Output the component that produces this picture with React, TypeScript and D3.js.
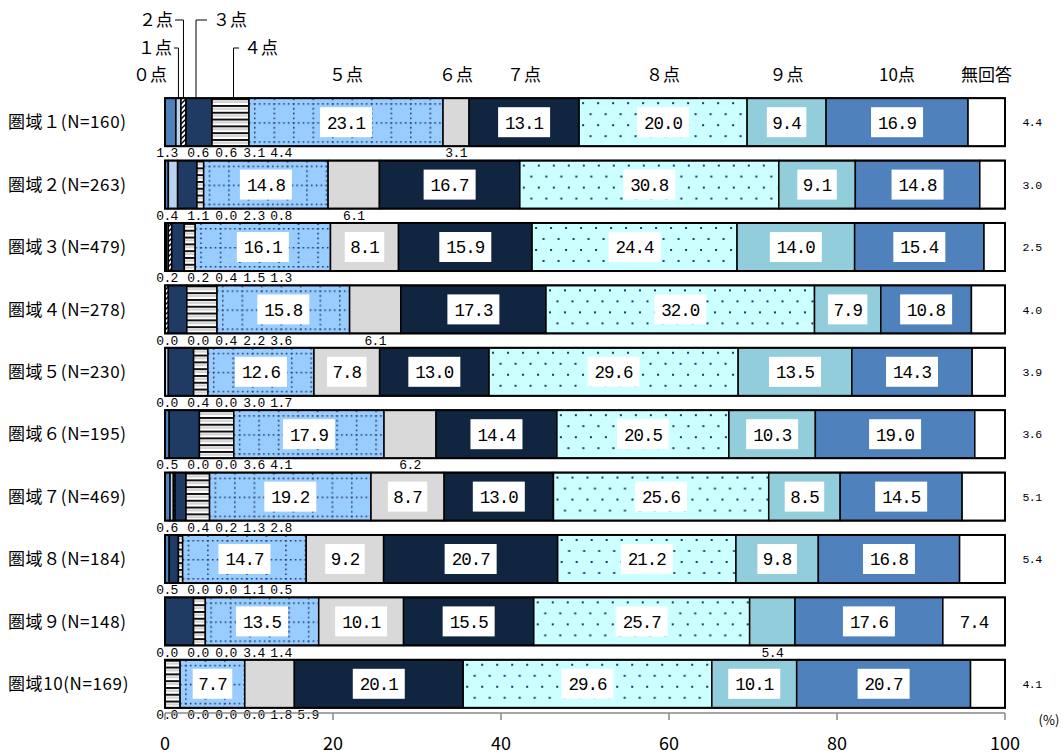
import React from 'react';
import * as d3 from 'd3';

const regions = ['圏域１(N=160)', '圏域２(N=263)', '圏域３(N=479)', '圏域４(N=278)', '圏域５(N=230)', '圏域６(N=195)', '圏域７(N=469)', '圏域８(N=184)', '圏域９(N=148)', '圏域10(N=169)'];
const categories = ['0点', '1点', '2点', '3点', '4点', '5点', '6点', '7点', '8点', '9点', '10点', '無回答'];
const headerLabels = ['０点', '１点', '２点', '３点', '４点', '５点', '６点', '７点', '８点', '９点', '10点', '無回答'];

const s0 = [1.3, 0.4, 0.2, 0.0, 0.0, 0.5, 0.6, 0.5, 0.0, 0.0];
const s1 = [0.6, 1.1, 0.2, 0.0, 0.4, 0.0, 0.4, 0.0, 0.0, 0.0];
const s2 = [0.6, 0.0, 0.4, 0.4, 0.0, 0.0, 0.2, 0.0, 0.0, 0.0];
const s3 = [3.1, 2.3, 1.5, 2.2, 3.0, 3.6, 1.3, 1.1, 3.4, 0.0];
const s4 = [4.4, 0.8, 1.3, 3.6, 1.7, 4.1, 2.8, 0.5, 1.4, 1.8];
const s5 = [23.1, 14.8, 16.1, 15.8, 12.6, 17.9, 19.2, 14.7, 13.5, 7.7];
const s6 = [3.1, 6.1, 8.1, 6.1, 7.8, 6.2, 8.7, 9.2, 10.1, 5.9];
const s7 = [13.1, 16.7, 15.9, 17.3, 13.0, 14.4, 13.0, 20.7, 15.5, 20.1];
const s8 = [20.0, 30.8, 24.4, 32.0, 29.6, 20.5, 25.6, 21.2, 25.7, 29.6];
const s9 = [9.4, 9.1, 14.0, 7.9, 13.5, 10.3, 8.5, 9.8, 5.4, 10.1];
const s10 = [16.9, 14.8, 15.4, 10.8, 14.3, 19.0, 14.5, 16.8, 17.6, 20.7];
const sNA = [4.4, 3.0, 2.5, 4.0, 3.9, 3.6, 5.1, 5.4, 7.4, 4.1];
const series = [s0, s1, s2, s3, s4, s5, s6, s7, s8, s9, s10, sNA];
const xTicks = [0, 20, 40, 60, 80, 100];

const baseColors = ['#4f81bd', '#b9d3f0', '#ffffff', '#1f3b64', '#ffffff', '#99ccff', '#d9d9d9', '#10253f', '#ccffff', '#92cddc', '#4f81bd', '#ffffff'];
const NUM_FONT = '"Liberation Mono", "DejaVu Sans Mono", monospace';
const JP_FONT = '"Noto Sans CJK JP", sans-serif';

function fmt(v: number) { return v.toFixed(1); }

export default function App() {
  const x = d3.scaleLinear().domain([0, 100]).range([165, 1005]);
  const y = d3.scaleBand<number>().domain(d3.range(regions.length)).range([91, 715]).paddingInner(0.23).paddingOuter(0.115);
  const bw = y.bandwidth();
  const rows = regions.map((r, i) => {
    const o: any = { region: r };
    categories.forEach((c, j) => { o[c] = series[j][i]; });
    return o;
  });
  const stackedRaw = d3.stack<any>().keys(categories).offset(d3.stackOffsetExpand)(rows);
  const stacked = stackedRaw.map(layer => layer.map(d => [d[0] * 100, d[1] * 100]));
  const smallOffsets = [2, 33, 61, 89, 116];

  const patterns: React.ReactNode[] = [];
  regions.forEach((_, i) => {
    const top = y(i)!;
    const s5start = x(stacked[5][i][0]);
    patterns.push(
      <pattern key={'p5' + i} id={'p5-' + i} patternUnits="userSpaceOnUse" x={s5start + 5} y={top + 5} width={19.5} height={19}>
        <rect width={19.5} height={19} fill="#99ccff" />
        <line x1={0.75} y1={0} x2={0.75} y2={19} stroke="#1f3864" strokeWidth={1.5} strokeDasharray="1.6,3.2" />
        <line x1={0} y1={0.75} x2={19.5} y2={0.75} stroke="#1f3864" strokeWidth={1.5} strokeDasharray="1.6,3.2" />
      </pattern>
    );
    const s8start = x(stacked[8][i][0]);
    patterns.push(
      <pattern key={'p8' + i} id={'p8-' + i} patternUnits="userSpaceOnUse" x={s8start} y={top} width={15} height={22}>
        <rect width={15} height={22} fill="#ccffff" />
        <rect x={3} y={4} width={2} height={2} fill="#1f3864" />
        <rect x={10.5} y={15} width={2} height={2} fill="#1f3864" />
      </pattern>
    );
    patterns.push(
      <pattern key={'p4' + i} id={'p4-' + i} patternUnits="userSpaceOnUse" x={0} y={top} width={10} height={6.8}>
        <rect width={10} height={6.8} fill="#ffffff" />
        <rect x={0} y={0} width={10} height={2} fill="#111" />
        <rect x={0} y={3.4} width={10} height={1} fill="#aaa" />
      </pattern>
    );
  });

  const fillFor = (j: number, i: number) => {
    if (j === 5) return `url(#p5-${i})`;
    if (j === 8) return `url(#p8-${i})`;
    if (j === 4) return `url(#p4-${i})`;
    if (j === 2) return 'url(#p2)';
    return baseColors[j];
  };

  const top0 = y(0)!;
  const segCenter = (j: number, i: number) => (x(stacked[j][i][0]) + x(stacked[j][i][1])) / 2;
  const minBelowX = x(0) + smallOffsets[4] + 27;

  return (
    <svg width={1063} height={755} style={{ position: 'absolute', left: 0, top: 0, background: '#fff' }}>
      <defs>
        <pattern id="p2" patternUnits="userSpaceOnUse" width={5} height={5}>
          <rect width={5} height={5} fill="#fff" />
          <path d="M0,5 L5,0 M-1,1 L1,-1 M4,6 L6,4" stroke="#000" strokeWidth={1.4} />
        </pattern>
        {patterns}
      </defs>
      <rect x={0} y={0} width={1063} height={755} fill="#fff" />

      {/* bars */}
      {stacked.map((layer, j) => (
        <g key={categories[j]}>
          {layer.map((d, i) => {
            const w = x(d[1]) - x(d[0]);
            if (w <= 0) return null;
            return <rect key={i} x={x(d[0])} y={y(i)!} width={w} height={bw} fill={fillFor(j, i)} stroke="#000" strokeWidth={1.5} />;
          })}
        </g>
      ))}
      {regions.map((_, i) => (
        <rect key={'o' + i} x={x(0)} y={y(i)!} width={x(100) - x(0)} height={bw} fill="none" stroke="#000" strokeWidth={2} />
      ))}

      {/* row labels */}
      {regions.map((r, i) => (
        <text key={'r' + i} x={8} y={y(i)! + bw / 2} dy="0.36em" fontFamily={JP_FONT} fontSize={17} letterSpacing={0.6} fill="#000">{r}</text>
      ))}

      {/* value labels */}
      {stacked.map((layer, j) => layer.map((d, i) => {
        const v = series[j][i];
        const txt = fmt(v);
        const top = y(i)!;
        if (j <= 4) {
          return (
            <text key={`s${j}-${i}`} x={x(0) + smallOffsets[j]} y={top + bw + 6.5} dy="0.36em" textAnchor="middle" fontFamily={NUM_FONT} fontSize={13} letterSpacing={-0.6} fill="#000">{txt}</text>
          );
        }
        const cx = segCenter(j, i);
        if (v >= 7) {
          const bwid = txt.length * 12.5 + 2;
          return (
            <g key={`s${j}-${i}`}>
              <rect x={cx - bwid / 2} y={top + bw / 2 - 15} width={bwid} height={30} fill="#fff" />
              <text x={cx} y={top + bw / 2} dy="0.36em" textAnchor="middle" fontFamily={NUM_FONT} fontSize={17.5} letterSpacing={-1} fill="#000">{txt}</text>
            </g>
          );
        }
        if (j === 11) {
          return (
            <text key={`s${j}-${i}`} x={1032} y={top + bw / 2} dy="0.36em" textAnchor="middle" fontFamily={NUM_FONT} fontSize={11.5} letterSpacing={-0.5} fill="#000">{txt}</text>
          );
        }
        return (
          <text key={`s${j}-${i}`} x={Math.max(cx, minBelowX)} y={top + bw + 6.5} dy="0.36em" textAnchor="middle" fontFamily={NUM_FONT} fontSize={13} letterSpacing={-0.6} fill="#000">{txt}</text>
        );
      }))}

      {/* header category labels */}
      <text x={167} y={75} dy="0.36em" textAnchor="end" fontFamily={JP_FONT} fontSize={17}>{headerLabels[0]}</text>
      <text x={172} y={48} dy="0.36em" textAnchor="end" fontFamily={JP_FONT} fontSize={17}>{headerLabels[1]}</text>
      <text x={173} y={20} dy="0.36em" textAnchor="end" fontFamily={JP_FONT} fontSize={17}>{headerLabels[2]}</text>
      <text x={213} y={20} dy="0.36em" textAnchor="start" fontFamily={JP_FONT} fontSize={17}>{headerLabels[3]}</text>
      <text x={244} y={48} dy="0.36em" textAnchor="start" fontFamily={JP_FONT} fontSize={17}>{headerLabels[4]}</text>
      <path d={`M174,48 H${segCenter(1, 0)} V${top0}`} fill="none" stroke="#000" strokeWidth={1} />
      <path d={`M175,20 H${segCenter(2, 0)} V${top0}`} fill="none" stroke="#000" strokeWidth={1} />
      <path d={`M207,20 H${segCenter(3, 0) - 3} V${top0}`} fill="none" stroke="#000" strokeWidth={1} />
      <path d={`M239,48 H${segCenter(4, 0) + 3} V${top0}`} fill="none" stroke="#000" strokeWidth={1} />
      {headerLabels.slice(5).map((h, k) => (
        <text key={'h' + k} x={segCenter(k + 5, 0)} y={75} dy="0.36em" textAnchor="middle" fontFamily={JP_FONT} fontSize={17}>{h}</text>
      ))}

      {/* axis */}
      <line x1={x(0)} x2={x(100)} y1={713} y2={713} stroke="#888" strokeWidth={1.5} />
      {xTicks.map(t => (
        <g key={'t' + t}>
          <line x1={x(t)} x2={x(t)} y1={713} y2={720} stroke="#888" strokeWidth={1.5} />
          <text x={x(t)} y={744} dy="0.35em" textAnchor="middle" fontFamily={JP_FONT} fontSize={18}>{t}</text>
        </g>
      ))}
      <text x={1049} y={720} dy="0.36em" textAnchor="middle" fontFamily={JP_FONT} fontSize={13}>(%)</text>
    </svg>
  );
}
